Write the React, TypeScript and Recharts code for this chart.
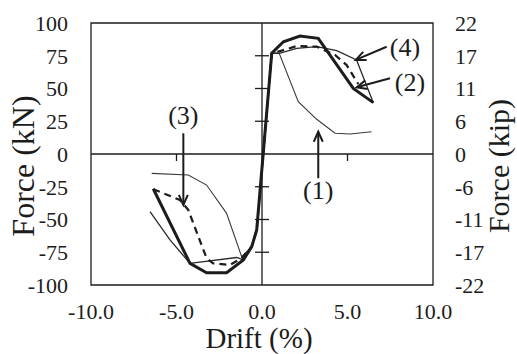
import React from 'react';
import {
  LineChart,
  Line,
  XAxis,
  YAxis,
  ReferenceArea,
  ReferenceLine,
  ReferenceDot,
  Label,
} from 'recharts';

type Pt = { x: number; y: number };
const toPts = (rows: number[][]): Pt[] => rows.map(([x, y]) => ({ x, y }));

// drift (%) / force (kN) envelopes
const curve1 = toPts([
  [-6.45, -14.8], [-4.31, -16], [-3.24, -23.7], [-2.07, -45.3], [-1.19, -78.4],
  [-0.6, -70.7], [-0.31, -58], [0.57, 76.9], [1.0, 77], [2.12, 40], [3.2, 26.5],
  [4.27, 15.8], [5.15, 15.3], [6.41, 17],
]);
const curve2 = toPts([
  [-6.36, -26.5], [-4.21, -83.5], [-3.24, -90.6], [-2.07, -90.6], [-1.09, -80.9],
  [-0.6, -70.7], [-0.31, -58], [0.57, 76.9], [1.25, 85.7], [2.22, 90.1],
  [3.29, 88.3], [5.34, 50.1], [6.51, 39.2],
]);
const curve3 = toPts([
  [-6.36, -26.9], [-4.8, -35.1], [-4.31, -42.7], [-3.24, -79.6], [-2.85, -83.5],
  [-1.87, -84.7], [-1.19, -79.6], [-0.6, -70.7], [-0.31, -58], [0.57, 76.9],
  [1.15, 78.9], [2.03, 82.4], [3.2, 81.9], [4.27, 75.6], [4.95, 67.9], [5.63, 53.4],
]);
const curve4 = toPts([
  [-6.55, -44], [-5.38, -65.6], [-4.21, -83.5], [-1.48, -79], [-1.09, -80.9],
  [-0.6, -70.7], [-0.31, -58], [0.57, 76.9], [1.01, 76.9], [2.03, 80.7],
  [3.2, 81.9], [4.37, 78.9], [5.53, 71.8], [6.51, 39.2],
]);

const driftTicks = [-10, -5, 0, 5, 10];
const forceTicks = [-100, -75, -50, -25, 0, 25, 50, 75, 100];
const KIP_PER_KN = 0.2248;

// minor ticks drawn on the axes crossing at zero
const innerForceTicks = [-75, -50, -25, 25, 50, 75];
const innerDriftTicks = [-5, 5];

const callouts = [
  { text: '(1)', label: [3.29, -27.5], from: [3.29, -18.5], to: [3.29, 17] },
  { text: '(2)', label: [8.65, 55.2], from: [7.49, 57.8], to: [5.54, 50.9] },
  { text: '(3)', label: [-4.6, 29.8], from: [-4.6, 15.8], to: [-4.6, -38.9] },
  { text: '(4)', label: [8.36, 81.7], from: [7.29, 81.9], to: [5.48, 71.8] },
];

const INK = '#1c1c1c';
const FONT = 'Liberation Serif, Times New Roman, Times, serif';

const Arrow = (p: any) => {
  const { x1, y1, x2, y2 } = p;
  const a = Math.atan2(y2 - y1, x2 - x1);
  const h = 11;
  const s = 0.42;
  const l = `${x2 - h * Math.cos(a - s)},${y2 - h * Math.sin(a - s)}`;
  const r = `${x2 - h * Math.cos(a + s)},${y2 - h * Math.sin(a + s)}`;
  return (
    <g stroke={INK} strokeWidth={2} fill="none">
      <line x1={x1} y1={y1} x2={x2} y2={y2} />
      <polyline points={`${l} ${x2},${y2} ${r}`} />
    </g>
  );
};

export default function App() {
  return (
    <div style={{ position: 'absolute', left: 0, top: 0, background: '#fff' }}>
      <LineChart
        width={517}
        height={354}
        margin={{ top: 23, right: 0, bottom: 0, left: 0 }}
        style={{ fontFamily: FONT }}
      >
        <XAxis
          type="number"
          dataKey="x"
          domain={[-10, 10]}
          ticks={driftTicks}
          interval={0}
          tickFormatter={(v: number) => v.toFixed(1)}
          axisLine={false}
          tickLine={false}
          tickSize={0}
          tickMargin={18}
          height={69}
          tick={{ fontSize: 22, fill: INK, fontFamily: FONT }}
        >
          <Label value="Drift (%)" position="insideBottom" offset={6} dx={-3} fontSize={29} fill={INK} fontFamily={FONT} />
        </XAxis>
        <YAxis
          yAxisId="kn"
          type="number"
          domain={[-100, 100]}
          ticks={forceTicks}
          interval={0}
          axisLine={false}
          tickLine={false}
          tickSize={0}
          tickMargin={23}
          width={91}
          tick={{ fontSize: 22, fill: INK, fontFamily: FONT }}
        >
          <Label value="Force (kN)" position="center" angle={-90} dx={-23} dy={12} fontSize={32} fill={INK} fontFamily={FONT} />
        </YAxis>
        <YAxis
          yAxisId="kip"
          orientation="right"
          type="number"
          domain={[-100, 100]}
          allowDataOverflow
          ticks={forceTicks}
          interval={0}
          tickFormatter={(v: number) => String(Math.round(v * KIP_PER_KN))}
          axisLine={false}
          tickLine={false}
          tickSize={0}
          tickMargin={22}
          width={84}
          tick={{ fontSize: 22, fill: INK, fontFamily: FONT }}
        >
          <Label value="Force (kip)" position="center" angle={-90} dx={23} dy={12} fontSize={30} fill={INK} fontFamily={FONT} />
        </YAxis>

        <ReferenceArea yAxisId="kn" x1={-10} x2={10} y1={-100} y2={100} fill="none" stroke={INK} strokeWidth={1.3} />
        <ReferenceLine yAxisId="kn" x={0} stroke={INK} strokeWidth={1.3} />
        <ReferenceLine yAxisId="kn" y={0} stroke={INK} strokeWidth={1.3} />
        {innerForceTicks.map((v) => (
          <ReferenceDot
            key={`fy${v}`}
            yAxisId="kn"
            x={0}
            y={v}
            shape={(p: any) => <line x1={p.cx - 7} x2={p.cx + 7} y1={p.cy} y2={p.cy} stroke={INK} strokeWidth={1.3} />}
          />
        ))}
        {innerDriftTicks.map((v) => (
          <ReferenceDot
            key={`dx${v}`}
            yAxisId="kn"
            x={v}
            y={0}
            shape={(p: any) => <line x1={p.cx} x2={p.cx} y1={p.cy} y2={p.cy + 7} stroke={INK} strokeWidth={1.3} />}
          />
        ))}

        <Line yAxisId="kn" data={curve1} dataKey="y" stroke="#3a3a3a" strokeWidth={1.1} dot={false} isAnimationActive={false} />
        <Line yAxisId="kn" data={curve4} dataKey="y" stroke="#2a2a2a" strokeWidth={1.3} dot={false} isAnimationActive={false} />
        <Line yAxisId="kn" data={curve3} dataKey="y" stroke={INK} strokeWidth={2.2} strokeDasharray="7 5" dot={false} isAnimationActive={false} />
        <Line yAxisId="kn" data={curve2} dataKey="y" stroke={INK} strokeWidth={3} dot={false} isAnimationActive={false} />
        {/* same envelope on the kip axis, invisible, so that axis gets a domain */}
        <Line yAxisId="kip" data={curve2} dataKey="y" stroke="none" dot={false} activeDot={false} isAnimationActive={false} />

        {callouts.map((c) => (
          <ReferenceLine
            key={`a${c.text}`}
            yAxisId="kn"
            segment={[{ x: c.from[0], y: c.from[1] }, { x: c.to[0], y: c.to[1] }]}
            shape={Arrow}
          />
        ))}
        {callouts.map((c) => (
          <ReferenceDot
            key={`t${c.text}`}
            yAxisId="kn"
            x={c.label[0]}
            y={c.label[1]}
            ifOverflow="visible"
            shape={(p: any) => (
              <text x={p.cx} y={p.cy} dy="0.35em" textAnchor="middle" fontSize={26} fill={INK} fontFamily={FONT}>
                {c.text}
              </text>
            )}
          />
        ))}
      </LineChart>
    </div>
  );
}
